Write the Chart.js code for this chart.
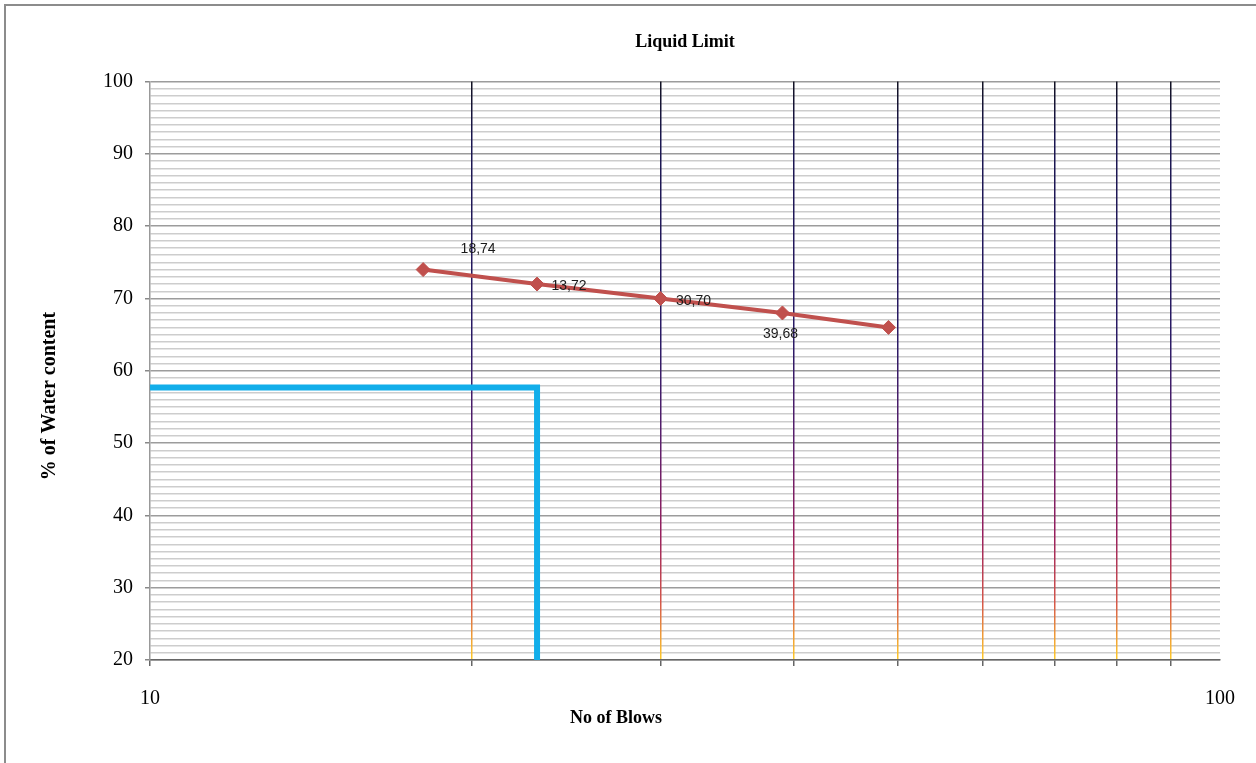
<!DOCTYPE html>
<html>
<head>
<meta charset="utf-8">
<title>Liquid Limit</title>
<script src="https://cdn.jsdelivr.net/npm/chart.js@4.4.1/dist/chart.umd.min.js"></script>
<style>
  body { margin: 0; background: #fff; }
  #wrap { position: relative; width: 1256px; height: 763px; }
  #frame { position: absolute; left: 4px; top: 4px; right: 0; bottom: 0;
           border-left: 2px solid #8c8c8c; border-top: 2px solid #8c8c8c; pointer-events: none; }
  canvas { position: absolute; left: 0; top: 0; }
</style>
</head>
<body>
<div id="wrap">
  <div id="frame"></div>
  <canvas id="myChart" width="1256" height="763"></canvas>
</div>
<script>
// blows vs water content
var blows = [18, 23, 30, 39, 49];
var water = [74, 72, 70, 68, 66];
var pointLabels = ['18,74', '13,72', '30,70', '39,68', ''];

// liquid limit guide line (blue)
var guideX = [10, 23, 23];
var guideY = [57.7, 57.7, 20];

var xTicks = [10, 20, 30, 40, 50, 60, 70, 80, 90, 100];
var xLabels = [10, 100];
var yMajor = [20, 30, 40, 50, 60, 70, 80, 90, 100];

// where each point label sits relative to its marker
var labelShift = [[55, -20], [32, 2], [33, 3], [-2, 21], [0, 0]];

function toXY(xs, ys) {
  var out = [];
  for (var i = 0; i < xs.length; i++) out.push({ x: xs[i], y: ys[i] });
  return out;
}

function gridGradient(chart) {
  var a = chart.chartArea;
  if (!a) return '#222';
  var g = chart.ctx.createLinearGradient(0, a.top, 0, a.bottom);
  g.addColorStop(0, '#121222');
  g.addColorStop(0.1, '#1a1650');
  g.addColorStop(0.45, '#2a1a66');
  g.addColorStop(0.62, '#5a1e6c');
  g.addColorStop(0.78, '#961e5e');
  g.addColorStop(0.9, '#d5564a');
  g.addColorStop(1, '#ffcc2a');
  return g;
}

var serif = '"Liberation Serif", "DejaVu Serif", serif';

var extraText = {
  id: 'extraText',
  afterDatasetsDraw: function (chart) {
    var ctx = chart.ctx;
    var meta = chart.getDatasetMeta(1);
    ctx.save();
    ctx.font = '14px "Liberation Sans", Arial, sans-serif';
    ctx.fillStyle = '#1a1a1a';
    ctx.textAlign = 'center';
    ctx.textBaseline = 'middle';
    meta.data.forEach(function (pt, i) {
      if (!pointLabels[i]) return;
      ctx.fillText(pointLabels[i], pt.x + labelShift[i][0], pt.y + labelShift[i][1]);
    });
    ctx.restore();
  },
  afterDraw: function (chart) {
    var ctx = chart.ctx;
    ctx.save();
    ctx.fillStyle = '#000';
    ctx.textAlign = 'center';
    ctx.textBaseline = 'middle';
    ctx.font = 'bold 18px ' + serif;
    ctx.fillText('No of Blows', 616, 718);
    ctx.translate(50, 396);
    ctx.rotate(-Math.PI / 2);
    ctx.font = 'bold 20px ' + serif;
    ctx.fillText('% of Water content', 0, 0);
    ctx.restore();
  }
};

new Chart(document.getElementById('myChart'), {
  type: 'scatter',
  data: {
    datasets: [{
      label: 'Liquid limit',
      data: toXY(guideX, guideY),
      showLine: true,
      borderColor: '#12aeea',
      borderWidth: 6,
      pointRadius: 0,
      clip: false
    }, {
      label: 'Water content',
      data: toXY(blows, water),
      showLine: true,
      borderColor: '#c0504d',
      backgroundColor: '#c0504d',
      borderWidth: 4,
      pointStyle: 'rectRot',
      pointRadius: 7,
      pointBorderWidth: 1
    }]
  },
  options: {
    responsive: false,
    animation: false,
    layout: { padding: { left: 0, right: 35, top: 0, bottom: 0 } },
    plugins: {
      legend: { display: false },
      tooltip: { enabled: false },
      title: {
        display: true,
        text: 'Liquid Limit',
        fullSize: false,
        color: '#000',
        font: { family: serif, size: 18, weight: 'bold' },
        padding: { top: 32, bottom: 28 }
      }
    },
    scales: {
      x: {
        type: 'logarithmic',
        min: 10,
        max: 100,
        afterBuildTicks: function (s) {
          s.ticks = xTicks.map(function (v) { return { value: v }; });
        },
        afterFit: function (s) { s.height = 103; },
        border: { color: '#666', width: 1.5 },
        grid: {
          z: -1,
          lineWidth: 1.5,
          color: function (c) {
            var v = c.tick && c.tick.value;
            if (v === 10 || v === 100) return 'rgba(0,0,0,0)';
            return gridGradient(c.chart);
          },
          tickColor: function (c) {
            return (c.tick && c.tick.value === 100) ? 'rgba(0,0,0,0)' : '#666';
          },
          tickLength: 6
        },
        ticks: {
          autoSkip: false,
          maxRotation: 0,
          padding: 21,
          color: '#000',
          font: { family: serif, size: 20 },
          callback: function (v) { return xLabels.indexOf(v) >= 0 ? String(v) : ''; }
        }
      },
      y: {
        min: 20,
        max: 100,
        afterFit: function (s) { s.width = 150; },
        border: { color: '#999', width: 1.5 },
        grid: {
          z: -2,
          lineWidth: 1.5,
          color: function (c) {
            var v = c.tick && c.tick.value;
            return yMajor.indexOf(v) >= 0 ? '#9c9c9c' : '#cdcdcd';
          },
          tickColor: function (c) {
            var v = c.tick && c.tick.value;
            return yMajor.indexOf(v) >= 0 ? '#888' : 'rgba(0,0,0,0)';
          },
          tickLength: 5
        },
        ticks: {
          stepSize: 1,
          autoSkip: false,
          padding: 12,
          color: '#000',
          font: { family: serif, size: 20 },
          callback: function (v) { return yMajor.indexOf(v) >= 0 ? String(v) : ''; }
        }
      }
    }
  },
  plugins: [extraText]
});
</script>
</body>
</html>
